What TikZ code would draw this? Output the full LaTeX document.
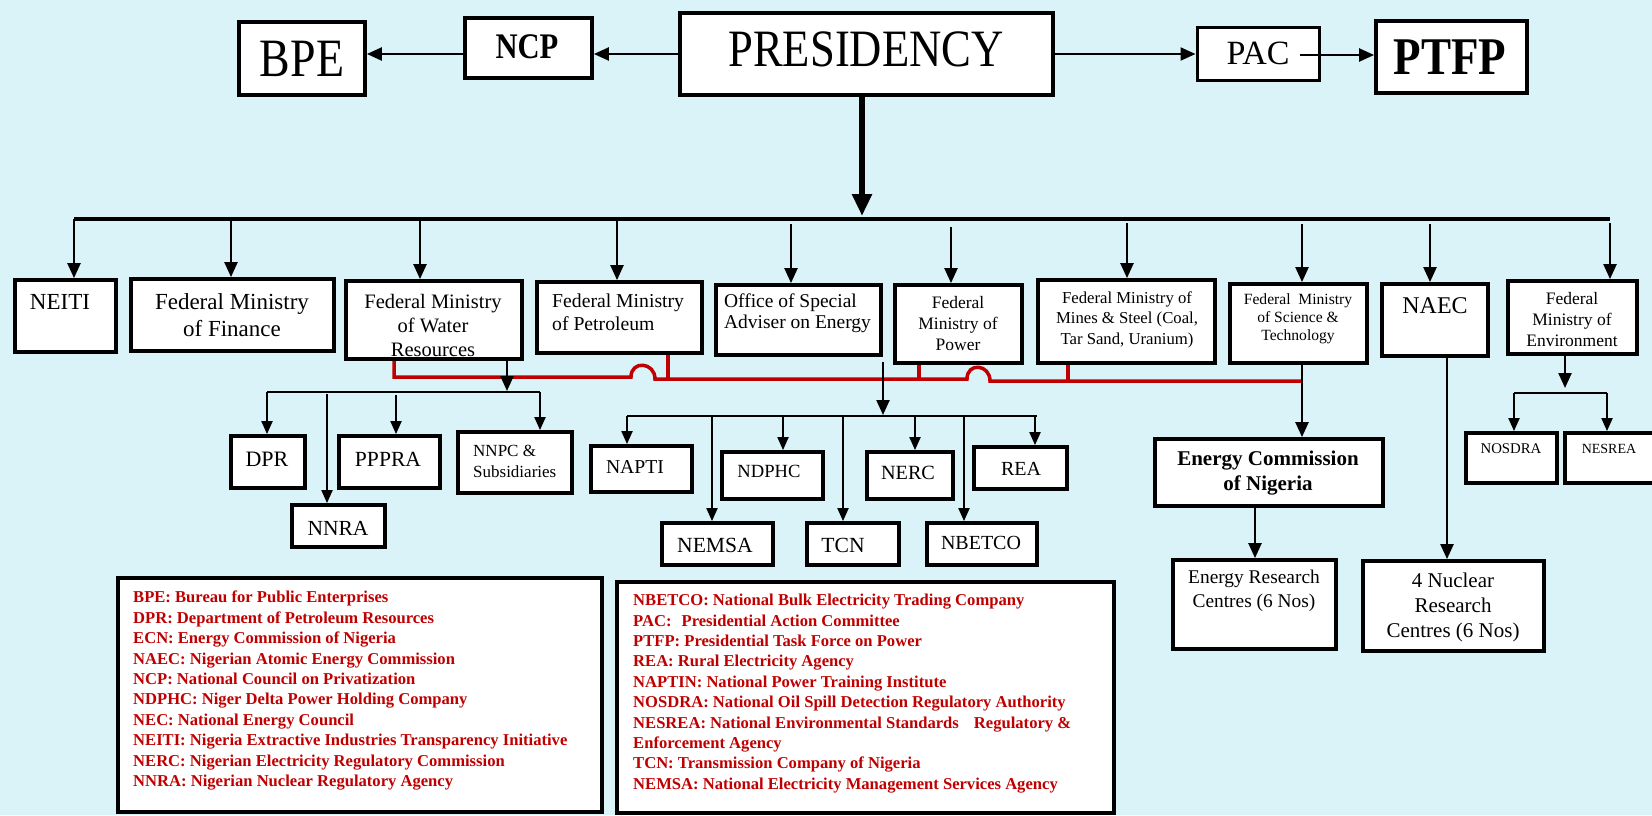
\documentclass[tikz,border=0pt]{standalone}
\usepackage{fontspec}
\setmainfont{Liberation Serif}
\newfontfamily\condfont[FakeStretch=0.85]{Liberation Serif}
\usetikzlibrary{arrows.meta}
\definecolor{bgc}{RGB}{218,243,248}
\definecolor{redc}{RGB}{192,0,0}
\newcommand{\fs}[2]{\fontsize{#1}{#2}\selectfont}
\tikzset{
 box/.style={draw=black, line width=3.8pt, fill=white, inner sep=0pt},
 lbl/.style={inner sep=0pt, align=center, text=black},
 arr/.style={line width=2.3pt, -{Triangle[length=15pt,width=13pt]}},
 sarr/.style={line width=2pt, -{Triangle[length=13pt,width=11pt]}},
 sline/.style={line width=2pt},
 redln/.style={draw=redc, line width=3.5pt},
 legtxt/.style={inner sep=0pt, align=left, text=redc, font=\fs{16.6}{20.4}\bfseries, anchor=north west},
}
\begin{document}
\begin{tikzpicture}[x=1pt,y=-1pt]
\fill[bgc] (0,0) rectangle (1652,815);
\useasboundingbox (0,0) rectangle (1652,815);

% ---------- top row ----------
\node[box, minimum width=126pt, minimum height=73pt] (bpe) at (302,58.5) {};
\node[lbl, font=\condfont\fs{54}{54}] (bpe-t) at (302,59) {BPE};
\node[box, minimum width=127pt, minimum height=60pt] (ncp) at (528.5,48) {};
\node[lbl, font=\condfont\bfseries\fs{36}{36}] (ncp-t) at (527,47) {NCP};
\node[box, minimum width=373pt, minimum height=82pt] (pres) at (866.5,54) {};
\node[lbl, font=\condfont\fs{52.5}{52.5}] (pres-t) at (866,49) {PRESIDENCY};
\node[box, line width=3pt, minimum width=122pt, minimum height=53pt] (pac) at (1258,53.5) {};
\node[lbl, font=\fs{34}{34}] (pac-t) at (1258,53.5) {PAC};
\node[box, minimum width=151pt, minimum height=72pt] (ptfp) at (1451.5,57) {};
\node[lbl, font=\condfont\bfseries\fs{53}{53}] (ptfp-t) at (1450,57) {PTFP};

% ---------- second row ----------
\node[box, minimum width=101pt, minimum height=72pt] (neiti) at (65.5,316) {};
\node[lbl, font=\fs{23}{27}] (neiti-t) at (60,301.5) {NEITI};
\node[box, minimum width=203pt, minimum height=72pt] (fin) at (232.5,315) {};
\node[lbl, font=\fs{23}{27}] (fin-t) at (232,315.5) {Federal Ministry\\of Finance};
\node[box, minimum width=176pt, minimum height=78pt] (wat) at (434,320) {};
\node[lbl, font=\fs{20.5}{24}] (wat-t) at (433,325) {Federal Ministry\\of Water\\Resources};
\node[box, minimum width=165pt, minimum height=71pt] (pet) at (619.5,317.5) {};
\node[lbl, align=left, anchor=west, font=\fs{19.7}{23}] (pet-t) at (552,312.5) {Federal Ministry\\of Petroleum};
\node[box, minimum width=165pt, minimum height=70pt] (off) at (798.5,320) {};
\node[lbl, align=left, font=\fs{19.5}{21}] (off-t) at (797.5,313.5) {Office of Special\\Adviser on Energy};
\node[box, minimum width=127pt, minimum height=78pt] (pow) at (958.5,324) {};
\node[lbl, font=\fs{17.5}{21}] (pow-t) at (958,324) {Federal\\Ministry of\\Power};
\node[box, minimum width=177pt, minimum height=83pt] (min) at (1126.5,321.5) {};
\node[lbl, font=\fs{16.7}{20.5}] (min-t) at (1127,319.5) {Federal Ministry of\\Mines \& Steel (Coal,\\Tar Sand, Uranium)};
\node[box, minimum width=137pt, minimum height=79pt] (sci) at (1298.5,323.5) {};
\node[lbl, font=\fs{15.6}{18}] (sci-t) at (1298,319) {Federal~~Ministry\\of Science \&\\Technology};
\node[box, minimum width=106pt, minimum height=72pt] (naec) at (1435,320) {};
\node[lbl, font=\fs{24}{24}] (naec-t) at (1435,306) {NAEC};
\node[box, minimum width=129pt, minimum height=73pt] (env) at (1572.5,317.5) {};
\node[lbl, font=\fs{17.5}{21}] (env-t) at (1572,320) {Federal\\Ministry of\\Environment};

% ---------- lower boxes ----------
\node[box, minimum width=74pt, minimum height=52pt] (dpr) at (268,462) {};
\node[lbl, font=\fs{22}{22}] (dpr-t) at (267,459) {DPR};
\node[box, minimum width=101pt, minimum height=52pt] (pppra) at (389.5,462) {};
\node[lbl, font=\fs{21.6}{22}] (pppra-t) at (388,459) {PPPRA};
\node[box, minimum width=93pt, minimum height=42pt] (nnra) at (338.5,526) {};
\node[lbl, font=\fs{21.5}{22}] (nnra-t) at (338,528) {NNRA};
\node[box, minimum width=114pt, minimum height=61pt] (nnpc) at (515,462.5) {};
\node[lbl, align=left, anchor=west, font=\fs{17}{21}] (nnpc-t) at (473,461.5) {NNPC \&\\Subsidiaries};

\node[box, minimum width=101pt, minimum height=46pt] (napti) at (641.5,469) {};
\node[lbl, font=\fs{19.7}{20}] (napti-t) at (635,467) {NAPTI};
\node[box, minimum width=101pt, minimum height=47pt] (ndphc) at (772.5,475.5) {};
\node[lbl, font=\fs{18.6}{20}] (ndphc-t) at (769,471) {NDPHC};
\node[box, minimum width=86pt, minimum height=47pt] (nerc) at (910,475.5) {};
\node[lbl, font=\fs{20.2}{21}] (nerc-t) at (908,473) {NERC};
\node[box, minimum width=93pt, minimum height=42pt] (rea) at (1020.5,468) {};
\node[lbl, font=\fs{20}{21}] (rea-t) at (1021,469) {REA};
\node[box, minimum width=111pt, minimum height=42pt] (nemsa) at (717.5,544) {};
\node[lbl, font=\fs{21.6}{22}] (nemsa-t) at (715,545) {NEMSA};
\node[box, minimum width=92pt, minimum height=42pt] (tcn) at (853,544) {};
\node[lbl, font=\fs{21.6}{22}] (tcn-t) at (843,545) {TCN};
\node[box, minimum width=110pt, minimum height=42pt] (nbetco) at (982,544) {};
\node[lbl, font=\fs{20}{21}] (nbetco-t) at (981,543) {NBETCO};

\node[box, minimum width=228pt, minimum height=67pt] (ecn) at (1269,472.5) {};
\node[lbl, font=\bfseries\fs{21}{25}] (ecn-t) at (1268,473.5) {Energy Commission\\of Nigeria};
\node[box, minimum width=163pt, minimum height=89pt] (erc) at (1254.5,604.5) {};
\node[lbl, font=\fs{19.4}{24}] (erc-t) at (1254,591) {Energy Research\\Centres (6 Nos)};
\node[box, minimum width=181pt, minimum height=90pt] (nuc) at (1453.5,606) {};
\node[lbl, font=\fs{21}{25}] (nuc-t) at (1453,607) {4 Nuclear\\Research\\Centres (6 Nos)};
\node[box, minimum width=91pt, minimum height=50pt] (nosdra) at (1511.5,458) {};
\node[lbl, font=\fs{14.8}{15}] (nosdra-t) at (1511,449) {NOSDRA};
\node[box, minimum width=100pt, minimum height=50pt] (nesrea) at (1615,458) {};
\node[lbl, font=\fs{14}{15}] (nesrea-t) at (1609,449) {NESREA};

% ---------- legends ----------
\node[box, minimum width=484pt, minimum height=234pt] (leg1) at (360,695) {};
\node[legtxt] (leg1-t) at (133,591) {BPE: Bureau for Public Enterprises\\
DPR: Department of Petroleum Resources\\
ECN: Energy Commission of Nigeria\\
NAEC: Nigerian Atomic Energy Commission\\
NCP: National Council on Privatization\\
NDPHC: Niger Delta Power Holding Company\\
NEC: National Energy Council\\
NEITI: Nigeria Extractive Industries Transparency Initiative\\
NERC: Nigerian Electricity Regulatory Commission\\
NNRA: Nigerian Nuclear Regulatory Agency};
\node[box, minimum width=497pt, minimum height=231pt] (leg2) at (865.5,697.5) {};
\node[legtxt] (leg2-t) at (633,594) {NBETCO: National Bulk Electricity Trading Company\\
PAC:\hspace{10pt}Presidential Action Committee\\
PTFP: Presidential Task Force on Power\\
REA: Rural Electricity Agency\\
NAPTIN: National Power Training Institute\\
NOSDRA: National Oil Spill Detection Regulatory Authority\\
NESREA: National Environmental Standards\hspace{15pt}Regulatory \&\\
Enforcement Agency\\
TCN: Transmission Company of Nigeria\\
NEMSA: National Electricity Management Services Agency};

% ---------- top connectors ----------
\draw[arr] (pres.west) -- (ncp.east |- pres.west);
\draw[arr] (ncp.west |- pres.west) -- (bpe.east |- pres.west);
\draw[arr] (pres.east) -- (pac.west |- pres.east);
\coordinate (pacout) at (1300,55);
\draw[arr] (pacout) -- (ptfp.west |- pacout);
\coordinate (presx) at (862,216);
\draw[line width=5.5pt, -{Triangle[length=22pt,width=19pt]}] (pres.south -| presx) -- (presx);
\coordinate (busL) at (74,219);
\coordinate (busR) at (1610,219);
\draw[line width=3.8pt] (busL) -- (busR);
\foreach \nm/\x/\y in {neiti/74/219, fin/231/219, wat/420/219, pet/617/219, off/791/224, pow/951/227, min/1127/223, sci/1302/224, naec/1430/224, env/1610/223}{
  \coordinate (d-\nm) at (\x,\y);
  \draw[arr] (d-\nm) -- (d-\nm |- \nm.north);
}

% ---------- red link line ----------
\coordinate (rw) at (394,377);
\coordinate (h1a) at (631,377);
\coordinate (h1b) at (655,379);
\coordinate (h2a) at (967,379);
\coordinate (h2b) at (990,381);
\coordinate (rend) at (1302,381);
\draw[redln] (wat.south -| rw) -- (rw) -- (h1a) .. controls +(0,-17) and +(0,-17) .. (h1b) -- (h2a) .. controls +(0,-17) and +(0,-17) .. (h2b) -- (rend);
\coordinate (rp) at (668,379);
\draw[redln] (pet.south -| rp) -- (rp);
\coordinate (rpw) at (919,379);
\draw[redln] (pow.south -| rpw) -- (rpw);
\coordinate (rm) at (1068,381);
\draw[redln] (min.south -| rm) -- (rm);

% ---------- water sub-tree ----------
\coordinate (wdown) at (507,391);
\draw[arr] (wat.south -| wdown) -- (wdown);
\coordinate (wbL) at (267,392);
\coordinate (wbR) at (540,392);
\draw[sline] (wbL) -- (wbR);
\draw[sarr] (wbL) -- (wbL |- dpr.north);
\draw[sarr] (wbR) -- (wbR |- nnpc.north);
\coordinate (wpp) at (396,395);
\draw[sarr] (wpp) -- (wpp |- pppra.north);
\coordinate (wnn) at (327,394);
\draw[sarr] (wnn) -- (wnn |- nnra.north);

% ---------- power sub-tree ----------
\coordinate (ptop) at (883,362);
\coordinate (pbar) at (883,415);
\draw[arr] (ptop) -- (pbar);
\coordinate (pbL) at (627,416);
\coordinate (pbR) at (1037,416);
\draw[sline] (pbL) -- (pbR);
\foreach \nm/\x/\y in {napti/627/416, nemsa/712/417, ndphc/783/416, tcn/843/417, nerc/915/416, nbetco/964/417, rea/1035/416}{
  \coordinate (p-\nm) at (\x,\y);
  \draw[sarr] (p-\nm) -- (p-\nm |- \nm.north);
}

% ---------- right side ----------
\coordinate (sx) at (1302,0);
\draw[arr] (sci.south -| sx) -- (ecn.north -| sx);
\coordinate (ex) at (1255,0);
\draw[arr] (ecn.south -| ex) -- (erc.north -| ex);
\coordinate (nx) at (1447,0);
\draw[arr] (naec.south -| nx) -- (nuc.north -| nx);
\coordinate (ev) at (1565,388);
\draw[arr] (env.south -| ev) -- (ev);
\coordinate (ebL) at (1514,393);
\coordinate (ebR) at (1607,393);
\draw[sline] (ebL) -- (ebR);
\draw[sarr] (ebL) -- (ebL |- nosdra.north);
\draw[sarr] (ebR) -- (ebR |- nesrea.north);
\end{tikzpicture}
\end{document}
